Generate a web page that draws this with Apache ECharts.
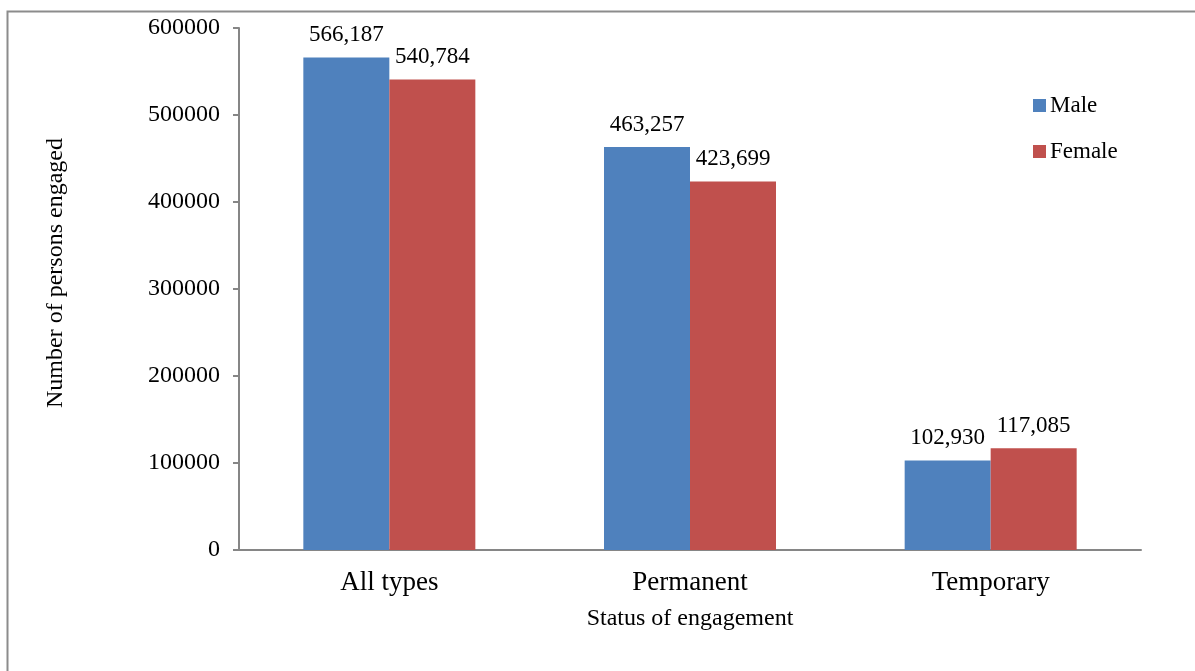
<!doctype html>
<html>
<head>
<meta charset="utf-8"/>
<title>Status of engagement</title>
<script src="https://cdn.jsdelivr.net/npm/echarts@6/dist/echarts.min.js"></script>
<style>
body { margin: 0; background: #fff; }
#chart { width: 1195px; height: 671px; }
</style>
</head>
<body>
<div id="chart"></div>
<script>
// data
const categories = ['All types', 'Permanent', 'Temporary'];
const male = [566187, 463257, 102930];
const female = [540784, 423699, 117085];
const yTicks = [0, 100000, 200000, 300000, 400000, 500000, 600000];

const serif = '"Liberation Serif", "DejaVu Serif", serif';
const axisGrey = '#868686';

const fmt = v => v.toLocaleString('en-US');

const chart = echarts.init(document.getElementById('chart'));
chart.setOption({
    animation: false,
    textStyle: { fontFamily: serif, color: '#000' },
    grid: { left: 239, right: 54, top: 28, bottom: 121 },
    graphic: [{
        type: 'rect',
        shape: { x: 7.5, y: 11.5, width: 1300, height: 800 },
        style: { fill: 'none', stroke: '#8c8c8c', lineWidth: 2 },
        silent: true
    }],
    legend: {
        orient: 'vertical',
        left: 1028, top: 89,
        itemWidth: 13, itemHeight: 13, itemGap: 23,
        icon: 'rect',
        textStyle: { fontFamily: serif, fontSize: 23, color: '#000', padding: [0, 0, 0, -1] },
        data: ['Male', 'Female']
    },
    xAxis: {
        type: 'category',
        data: categories,
        name: 'Status of engagement',
        nameLocation: 'middle',
        nameGap: 57,
        nameTextStyle: { fontFamily: serif, fontSize: 24, color: '#000' },
        axisLine: { lineStyle: { color: axisGrey, width: 2 } },
        axisTick: { show: false },
        axisLabel: { fontFamily: serif, fontSize: 27, color: '#000', margin: 19 }
    },
    yAxis: {
        type: 'value',
        min: yTicks[0], max: yTicks[yTicks.length - 1], interval: 100000,
        name: 'Number of persons engaged',
        nameLocation: 'middle',
        nameGap: 171,
        nameTextStyle: { fontFamily: serif, fontSize: 24, color: '#000', padding: [0, 0, 0, 32] },
        axisLine: { show: true, lineStyle: { color: axisGrey, width: 2 } },
        axisTick: { show: true, length: 6, lineStyle: { color: axisGrey, width: 2 } },
        splitLine: { show: false },
        axisLabel: { fontFamily: serif, fontSize: 24, color: '#000', margin: 19, formatter: v => String(v) }
    },
    series: [{
        name: 'Male', type: 'bar', data: male,
        barWidth: 86, barGap: '0%',
        itemStyle: { color: '#4F81BD' },
        label: { show: true, position: 'top', distance: 11, fontFamily: serif, fontSize: 23, color: '#000', formatter: p => fmt(p.value) }
    }, {
        name: 'Female', type: 'bar', data: female,
        barWidth: 86, barGap: '0%',
        itemStyle: { color: '#C0504D' },
        label: { show: true, position: 'top', distance: 11, fontFamily: serif, fontSize: 23, color: '#000', formatter: p => fmt(p.value) }
    }]
});
</script>
</body>
</html>
